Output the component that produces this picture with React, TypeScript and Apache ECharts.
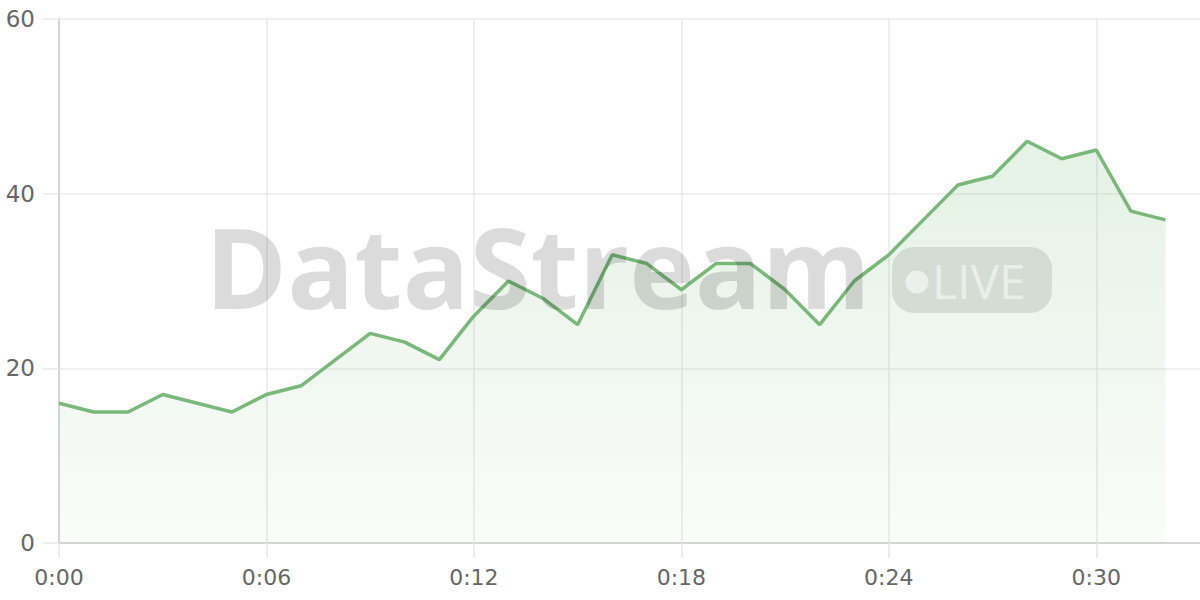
import React, { useEffect, useRef } from "react";
import * as echarts from "echarts";

const categories: string[] = [
  "0:00", "0:01", "0:02", "0:03", "0:04", "0:05", "0:06", "0:07", "0:08", "0:09",
  "0:10", "0:11", "0:12", "0:13", "0:14", "0:15", "0:16", "0:17", "0:18", "0:19",
  "0:20", "0:21", "0:22", "0:23", "0:24", "0:25", "0:26", "0:27", "0:28", "0:29",
  "0:30", "0:31", "0:32", "0:33",
];

const values: number[] = [
  16, 15, 15, 17, 16, 15, 17, 18, 21, 24,
  23, 21, 26, 30, 28, 25, 33, 32, 29, 32,
  32, 29, 25, 30, 33, 37, 41, 42, 46, 44,
  45, 38, 37,
];

const yTicks = { min: 0, max: 60, interval: 20 };
const watermarkTitle = "DataStream";
const badgeLabel = "LIVE";

export default function App() {
  const ref = useRef<HTMLDivElement>(null);

  useEffect(() => {
    if (!ref.current) return;
    const chart = echarts.init(ref.current, null, { renderer: "svg" });
    const labelFont = "'DejaVu Sans', sans-serif";
    chart.setOption({
      animation: false,
      backgroundColor: "#ffffff",
      grid: { left: 59, right: 0, top: 19, bottom: 57, containLabel: false },
      xAxis: {
        type: "category",
        data: categories,
        boundaryGap: false,
        axisLine: { show: true, lineStyle: { color: "#cccccc", width: 1.5 } },
        axisTick: { show: true, interval: 5, length: 15, lineStyle: { color: "#e6e6e6", width: 1.5 } },
        splitLine: { show: true, interval: 5, lineStyle: { color: "#e8e8e8", width: 1.5 } },
        axisLabel: {
          interval: 5,
          margin: 23,
          color: "#666666",
          fontSize: 22,
          fontFamily: labelFont,
        },
      },
      yAxis: {
        type: "value",
        min: yTicks.min,
        max: yTicks.max,
        interval: yTicks.interval,
        axisLine: { show: true, lineStyle: { color: "#cccccc", width: 1.5 } },
        axisTick: { show: true, length: 16, lineStyle: { color: "#e8e8e8", width: 1.5 } },
        splitLine: { show: true, lineStyle: { color: "#ebebeb", width: 1.5 } },
        axisLabel: {
          margin: 24,
          color: "#666666",
          fontSize: 23,
          fontFamily: labelFont,
        },
      },
      series: [
        {
          type: "line",
          data: values,
          showSymbol: false,
          symbol: "none",
          lineStyle: { color: "#78b978", width: 3.5 },
          itemStyle: { color: "#78b978" },
          areaStyle: {
            color: new echarts.graphic.LinearGradient(0, 0, 0, 1, [
              { offset: 0, color: "rgba(122,186,122,0.28)" },
              { offset: 1, color: "rgba(122,186,122,0.06)" },
            ]),
          },
        },
      ],
      graphic: [
        {
          type: "text",
          z: 100,
          x: 205,
          y: 266,
          style: {
            text: watermarkTitle,
            fontSize: 111,
            fontWeight: "bold",
            fontFamily: "'Open Sans', sans-serif",
            fill: "rgba(0,0,0,0.14)",
            align: "left",
            verticalAlign: "middle",
          },
        },
        {
          type: "rect",
          z: 100,
          shape: { x: 892, y: 247, width: 160, height: 66, r: 22 },
          style: { fill: "rgba(0,0,0,0.1)" },
        },
        {
          type: "circle",
          z: 101,
          shape: { cx: 917, cy: 282, r: 11.5 },
          style: { fill: "rgba(255,255,255,0.55)" },
        },
        {
          type: "text",
          z: 101,
          x: 932,
          y: 280,
          style: {
            text: badgeLabel,
            fontSize: 48,
            fontWeight: 500,
            fontFamily: "'Open Sans', sans-serif",
            fill: "rgba(255,255,255,0.55)",
            align: "left",
            verticalAlign: "middle",
          },
        },
      ],
    });
    return () => chart.dispose();
  }, []);

  return (
    <div
      ref={ref}
      style={{ position: "fixed", left: 0, top: 0, width: 1200, height: 600 }}
    />
  );
}
